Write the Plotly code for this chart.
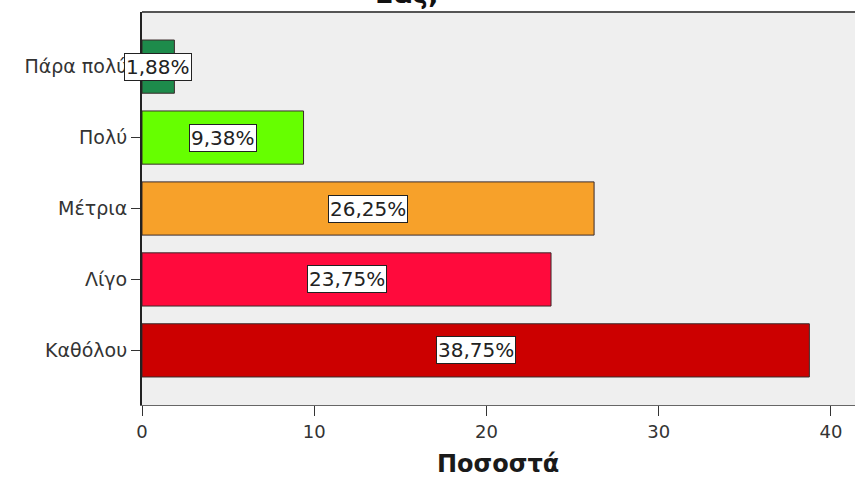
import plotly.graph_objects as go

categories = ["Πάρα πολύ", "Πολύ", "Μέτρια", "Λίγο", "Καθόλου"]
tick_labels = ["Πάρα πολύ", "Πολύ", "Μέτρια", "Λίγο", "Καθόλου"]
values = [1.88, 9.38, 26.25, 23.75, 38.75]
value_labels = ["1,88%", "9,38%", "26,25%", "23,75%", "38,75%"]
bar_colors = ["#1d8b4b", "#66ff00", "#f7a12a", "#ff0a3c", "#cc0000"]
x_ticks = [0, 10, 20, 30, 40]

FONT = "DejaVu Sans, Arial, sans-serif"
L, R, T, B = 142, 0, 12, 75
W, H = 855, 480
PW = W - L - R
PH = H - T - B

fig = go.Figure()
fig.add_trace(go.Bar(
    x=values, y=categories, orientation="h",
    marker=dict(color=bar_colors, line=dict(color="#3a2a2a", width=1)),
    width=0.75, hoverinfo="skip",
))

for c, v, lab in zip(categories, values, value_labels):
    fig.add_annotation(x=v / 2, y=c, xref="x", yref="y", text=lab, showarrow=False,
                       font=dict(family=FONT, size=20, color="#222"),
                       bgcolor="white", bordercolor="#222", borderwidth=1, borderpad=1)

# partially visible title (cut off at the top in the reference)
fig.add_annotation(x=(407 - L) / PW, xref="paper", y=1, yref="paper", text="<b>Σας;</b>",
                   showarrow=False, yanchor="bottom", yshift=1,
                   font=dict(family=FONT, size=27, color="#111"))

# axis title
fig.add_annotation(x=(498 - L) / PW, xref="paper", y=(405 - 464) / PH, yref="paper",
                   text="<b>Ποσοστά</b>", showarrow=False, yanchor="middle",
                   font=dict(family=FONT, size=24, color="#1a1a1a"))

# top border line
fig.add_shape(type="line", xref="paper", yref="paper", x0=0, x1=1, y0=1, y1=1,
              line=dict(color="#555", width=2))

fig.update_layout(
    width=W, height=H,
    margin=dict(l=L, r=R, t=T, b=B),
    paper_bgcolor="white", plot_bgcolor="#efefef",
    showlegend=False,
    font=dict(family=FONT, size=17, color="#333"),
)
fig.update_xaxes(range=[0, 41.4], tickvals=x_ticks, ticktext=[str(t) for t in x_ticks],
                 ticks="outside", ticklen=10, tickcolor="#333", tickwidth=1,
                 showline=True, linecolor="#666", linewidth=1,
                 showgrid=False, zeroline=False,
                 tickfont=dict(family=FONT, size=18, color="#333"))
fig.update_yaxes(categoryorder="array", categoryarray=categories, range=[4.77, -0.77],
                 tickvals=categories, ticktext=tick_labels,
                 ticks="outside", ticklen=9, tickcolor="#333", tickwidth=1,
                 showline=True, linecolor="#222", linewidth=2,
                 showgrid=False, zeroline=False,
                 tickfont=dict(family=FONT, size=19, color="#333"))

fig.write_html("out.html")
